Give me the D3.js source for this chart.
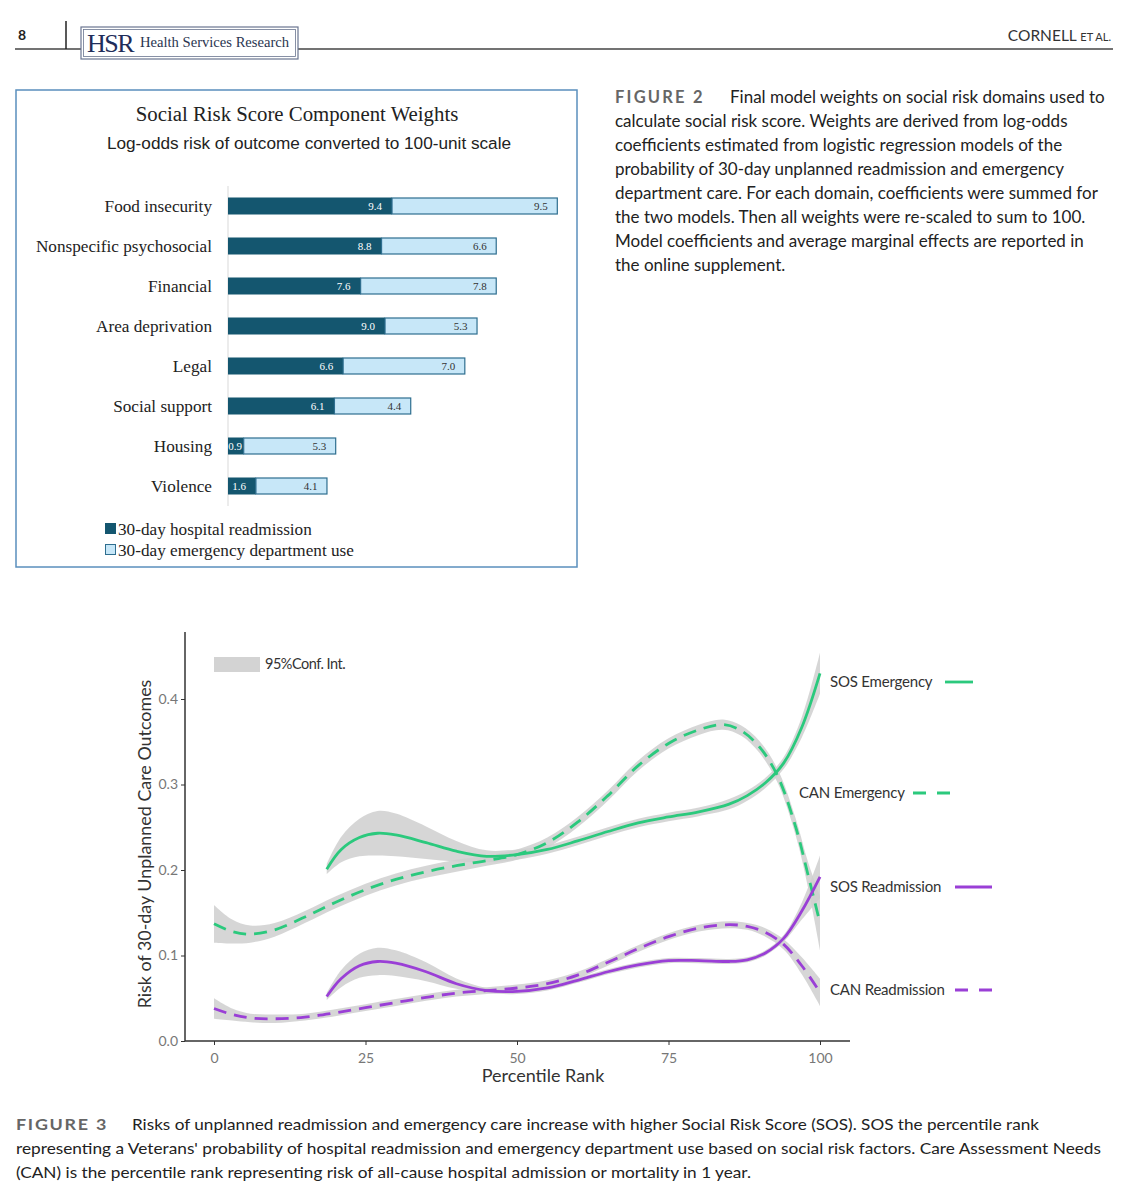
<!DOCTYPE html>
<html><head><meta charset="utf-8">
<script src="https://cdn.jsdelivr.net/npm/d3@7"></script>
<style>body{margin:0;background:#fff}svg{display:block}</style>
</head><body>
<script>
// ---------- Figure 2 data ----------
const categories = ["Food insecurity","Nonspecific psychosocial","Financial","Area deprivation","Legal","Social support","Housing","Violence"];
const readmission = [9.4, 8.8, 7.6, 9.0, 6.6, 6.1, 0.9, 1.6];
const emergency   = [9.5, 6.6, 7.8, 5.3, 7.0, 4.4, 5.3, 4.1];
const barSeries = ["30-day hospital readmission","30-day emergency department use"];

// ---------- Figure 3 data ----------
const xTicks = [0,25,50,75,100];
const yTicks = [0.0,0.1,0.2,0.3,0.4];
const sosX = [18.6,21,24,27,30,35,40,45,50,55,60,65,70,75,80,85,88,91,94,97,100];
const sosEmergency   = [0.201,0.224,0.238,0.243,0.241,0.232,0.222,0.216,0.218,0.224,0.234,0.245,0.255,0.262,0.268,0.277,0.287,0.302,0.325,0.367,0.430];
const sosEmergencyCI = [0.006,0.015,0.022,0.026,0.025,0.019,0.012,0.007,0.006,0.005,0.005,0.005,0.005,0.005,0.005,0.006,0.006,0.006,0.007,0.012,0.024];
const sosReadmission   = [0.052,0.073,0.088,0.093,0.091,0.081,0.067,0.059,0.058,0.062,0.071,0.081,0.089,0.094,0.094,0.093,0.095,0.103,0.120,0.152,0.192];
const sosReadmissionCI = [0.004,0.010,0.014,0.016,0.015,0.011,0.006,0.003,0.003,0.003,0.003,0.003,0.003,0.003,0.003,0.003,0.003,0.003,0.004,0.010,0.025];
const canEX = [0,3,6,10,15,20,25,30,35,40,45,50,55,60,65,70,75,80,84,87,90,93,96,98,100];
const canEmergency   = [0.137,0.128,0.125,0.130,0.145,0.162,0.177,0.189,0.198,0.205,0.211,0.218,0.232,0.256,0.287,0.322,0.348,0.364,0.370,0.363,0.344,0.310,0.250,0.195,0.138];
const canEmergencyCI = [0.022,0.014,0.010,0.008,0.007,0.007,0.007,0.007,0.007,0.007,0.006,0.006,0.006,0.006,0.006,0.006,0.006,0.006,0.006,0.006,0.007,0.008,0.010,0.015,0.032];
const canRX = [0,3,6,10,15,20,25,30,35,40,45,50,55,60,65,70,75,80,85,88,91,94,97,100];
const canReadmission   = [0.038,0.031,0.027,0.026,0.028,0.033,0.039,0.045,0.051,0.056,0.059,0.062,0.067,0.077,0.092,0.108,0.122,0.132,0.136,0.134,0.127,0.113,0.088,0.057];
const canReadmissionCI = [0.012,0.007,0.005,0.005,0.004,0.004,0.004,0.004,0.004,0.004,0.004,0.004,0.004,0.004,0.004,0.004,0.004,0.004,0.004,0.004,0.005,0.006,0.010,0.016];
const seriesNames = ["SOS Emergency","CAN Emergency","SOS Readmission","CAN Readmission"];

const fig2Caption = [
 "Final model weights on social risk domains used to",
 "calculate social risk score. Weights are derived from log-odds",
 "coefficients estimated from logistic regression models of the",
 "probability of 30-day unplanned readmission and emergency",
 "department care. For each domain, coefficients were summed for",
 "the two models. Then all weights were re-scaled to sum to 100.",
 "Model coefficients and average marginal effects are reported in",
 "the online supplement."];
const fig3Caption = [
 "Risks of unplanned readmission and emergency care increase with higher Social Risk Score (SOS). SOS the percentile rank",
 "representing a Veterans' probability of hospital readmission and emergency department use based on social risk factors. Care Assessment Needs",
 "(CAN) is the percentile rank representing risk of all-cause hospital admission or mortality in 1 year."];

const GREEN = "#2bc97d", PURPLE = "#9a3fd6", DARK = "#14566f", LIGHT = "#c7e7f8";
const svg = d3.select("body").append("svg").attr("width",1143).attr("height",1200);

// ---------- Page header ----------
const hdr = svg.append("g");
hdr.append("text").attr("x",18).attr("y",40).attr("font-family","Lato, sans-serif").attr("font-weight","bold").attr("font-size",14).attr("fill","#222").text("8");
hdr.append("line").attr("x1",15).attr("x2",1113).attr("y1",49).attr("y2",49).attr("stroke","#444").attr("stroke-width",1.5);
hdr.append("line").attr("x1",66).attr("x2",66).attr("y1",21).attr("y2",49).attr("stroke","#222").attr("stroke-width",1.5);
hdr.append("rect").attr("x",81).attr("y",27).attr("width",217).attr("height",32).attr("fill","#fff").attr("stroke","#6a7590").attr("stroke-width",1.2);
hdr.append("rect").attr("x",83.5).attr("y",29.5).attr("width",212).attr("height",27).attr("fill","none").attr("stroke","#6a7590").attr("stroke-width",0.8);
hdr.append("text").attr("x",87).attr("y",52).attr("font-family","Liberation Serif, serif").attr("font-size",26).attr("fill","#1f2d5a").attr("letter-spacing",-1.5).text("HSR");
hdr.append("text").attr("x",140).attr("y",47).attr("font-family","Liberation Serif, serif").attr("font-size",14.6).attr("fill","#2a3550").text("Health Services Research");
const hr = hdr.append("text").attr("x",1111).attr("y",41).attr("text-anchor","end").attr("font-family","Lato, sans-serif").attr("font-size",15.5).attr("fill","#333");
hr.append("tspan").text("CORNELL ");
hr.append("tspan").attr("font-size",11).text("ET AL.");

// ---------- Figure 2 box ----------
const f2 = svg.append("g");
f2.append("rect").attr("x",16).attr("y",90).attr("width",561).attr("height",477).attr("fill","#fff").attr("stroke","#5a8fbd").attr("stroke-width",1.5);
f2.append("text").attr("x",297).attr("y",121).attr("text-anchor","middle").attr("font-family","Liberation Serif, serif").attr("font-size",20.8).attr("fill","#222").text("Social Risk Score Component Weights");
f2.append("text").attr("x",309).attr("y",149).attr("text-anchor","middle").attr("font-family","Liberation Sans, Arial, sans-serif").attr("font-size",17.2).attr("fill","#222").text("Log-odds risk of outcome converted to 100-unit scale");

const xb = d3.scaleLinear().domain([0,20]).range([228,577]);
const yb = d3.scaleBand().domain(categories).range([186,506]).paddingInner(0.575).paddingOuter(0.2875);
f2.append("line").attr("x1",xb(0)).attr("x2",xb(0)).attr("y1",186).attr("y2",506).attr("stroke","#d9d9d9").attr("stroke-width",1);

const rows = categories.map((c,i)=>({c, r:readmission[i], e:emergency[i]}));
const rg = f2.selectAll("g.row").data(rows).join("g").attr("class","row");
rg.append("rect").attr("x",d=>xb(0)).attr("y",d=>yb(d.c)).attr("width",d=>xb(d.r)-xb(0)).attr("height",yb.bandwidth()).attr("fill",DARK);
rg.append("rect").attr("x",d=>xb(d.r)).attr("y",d=>yb(d.c)+0.5).attr("width",d=>xb(d.r+d.e)-xb(d.r)-0.5).attr("height",yb.bandwidth()-1).attr("fill",LIGHT).attr("stroke","#2e6e8f").attr("stroke-width",1.2);
rg.append("text").attr("x",d=>Math.max(xb(d.r)-10, xb(0)+14)).attr("y",d=>yb(d.c)+yb.bandwidth()/2+4).attr("text-anchor","end").attr("font-family","Liberation Serif, serif").attr("font-size",11).attr("fill","#fff").text(d=>d.r.toFixed(1));
rg.append("text").attr("x",d=>xb(d.r+d.e)-10).attr("y",d=>yb(d.c)+yb.bandwidth()/2+4).attr("text-anchor","end").attr("font-family","Liberation Serif, serif").attr("font-size",11).attr("fill","#333").text(d=>d.e.toFixed(1));
rg.append("text").attr("x",212).attr("y",d=>yb(d.c)+yb.bandwidth()/2+6).attr("text-anchor","end").attr("font-family","Liberation Serif, serif").attr("font-size",17.2).attr("fill","#222").text(d=>d.c);

const lg = f2.selectAll("g.lg").data(barSeries).join("g").attr("class","lg").attr("transform",(d,i)=>`translate(105,${523+i*21})`);
lg.append("rect").attr("x",0.5).attr("y",0.5).attr("width",10).attr("height",10).attr("fill",(d,i)=>i?LIGHT:DARK).attr("stroke",(d,i)=>i?"#2e6e8f":DARK).attr("stroke-width",1);
lg.append("text").attr("x",13).attr("y",11.5).attr("font-family","Liberation Serif, serif").attr("font-size",17.2).attr("fill","#222").text(d=>d);

// ---------- Figure 2 caption ----------
const c2 = svg.append("g").attr("font-family","Lato, sans-serif").attr("font-size",17).attr("fill","#222");
c2.append("text").attr("x",615).attr("y",102.5).attr("font-weight","bold").attr("letter-spacing",2.2).attr("fill","#666").attr("font-size",16.5).text("FIGURE 2");
fig2Caption.forEach((t,i)=>{
  c2.append("text").attr("x", i===0?730:615).attr("y",102.5+i*24).text(t);
});

// ---------- Figure 3 plot ----------
const x = d3.scaleLinear().domain([0,100]).range([214,820]);
const y = d3.scaleLinear().domain([0,0.4]).range([1041,699]);
const f3 = svg.append("g");

function mk(xs, ys, ci){ return xs.map((v,i)=>({x:v,y:ys[i],c:ci[i]})); }
const series = [
  {name:seriesNames[0], pts:mk(sosX,sosEmergency,sosEmergencyCI), color:GREEN, dash:null},
  {name:seriesNames[1], pts:mk(canEX,canEmergency,canEmergencyCI), color:GREEN, dash:"13,8"},
  {name:seriesNames[2], pts:mk(sosX,sosReadmission,sosReadmissionCI), color:PURPLE, dash:null},
  {name:seriesNames[3], pts:mk(canRX,canReadmission,canReadmissionCI), color:PURPLE, dash:"13,8"}
];
const curve = d3.curveCatmullRom.alpha(0.5);
const area = d3.area().x(d=>x(d.x)).y0(d=>y(d.y-d.c)).y1(d=>y(d.y+d.c)).curve(curve);
const line = d3.line().x(d=>x(d.x)).y(d=>y(d.y)).curve(curve);

f3.selectAll("path.band").data(series).join("path").attr("class","band").attr("d",d=>area(d.pts)).attr("fill","#cfcfcf").attr("opacity",0.85);
f3.selectAll("path.ln").data(series).join("path").attr("class","ln").attr("d",d=>line(d.pts)).attr("fill","none").attr("stroke",d=>d.color).attr("stroke-width",2.8).attr("stroke-dasharray",d=>d.dash);

// axes
const xAxis = f3.append("g").attr("transform","translate(0,1041)").call(d3.axisBottom(x).tickValues(xTicks).tickSize(4).tickFormat(d3.format("d")));
xAxis.select(".domain").remove();
xAxis.append("line").attr("x1",185).attr("x2",850).attr("stroke","#333").attr("stroke-width",1.5);
const yAxis = f3.append("g").attr("transform","translate(185,0)").call(d3.axisLeft(y).tickValues(yTicks).tickSize(4).tickFormat(d3.format(".1f")));
yAxis.select(".domain").remove();
yAxis.append("line").attr("y1",632).attr("y2",1041).attr("stroke","#333").attr("stroke-width",1.5);
[xAxis,yAxis].forEach(a=>{
  a.selectAll(".tick line").attr("stroke","#333");
  a.selectAll(".tick text").attr("font-family","Lato, sans-serif").attr("font-size",14).attr("fill","#777");
});
xAxis.selectAll(".tick text").attr("dy","1.05em");

f3.append("text").attr("x",543).attr("y",1082).attr("text-anchor","middle").attr("font-family","Lato, sans-serif").attr("font-size",18).attr("fill","#333").text("Percentile Rank");
f3.append("text").attr("transform","translate(151,844) rotate(-90)").attr("text-anchor","middle").attr("font-family","Lato, sans-serif").attr("font-size",17.9).attr("fill","#333").text("Risk of 30-day Unplanned Care Outcomes");

// CI legend
f3.append("rect").attr("x",214).attr("y",657).attr("width",46).attr("height",15).attr("fill","#d3d3d3");
f3.append("text").attr("x",265).attr("y",669).attr("font-family","Lato, sans-serif").attr("font-size",14.5).attr("letter-spacing",-0.5).attr("fill","#333").text("95%Conf. Int.");

// right labels
const labs = [
  {tx:830, ty:687, l1:945, l2:973},
  {tx:799, ty:798, l1:913, l2:950},
  {tx:830, ty:892, l1:955, l2:992},
  {tx:830, ty:995, l1:955, l2:992}
];
series.forEach((s,i)=>{
  const L = labs[i];
  f3.append("text").attr("x",L.tx).attr("y",L.ty).attr("font-family","Lato, sans-serif").attr("font-size",15).attr("letter-spacing",-0.2).attr("fill","#333").text(s.name);
  f3.append("line").attr("x1",L.l1).attr("x2",L.l2).attr("y1",L.ty-5).attr("y2",L.ty-5).attr("stroke",s.color).attr("stroke-width",2.8).attr("stroke-dasharray",s.dash?"13,11":null);
});

// ---------- Figure 3 caption ----------
const c3 = svg.append("g").attr("font-family","Lato, sans-serif").attr("font-size",16).attr("fill","#222");
c3.append("text").attr("x",16).attr("y",1130).attr("font-weight","bold").attr("letter-spacing",1.5).attr("fill","#666").attr("font-size",15.5).attr("textLength",92).attr("lengthAdjust","spacingAndGlyphs").text("FIGURE 3");
const c3ends = [1039,1101,751];
fig3Caption.forEach((t,i)=>{
  const x0 = i===0?132:16;
  c3.append("text").attr("x",x0).attr("y",1130+i*24).attr("textLength",c3ends[i]-x0).attr("lengthAdjust","spacingAndGlyphs").text(t);
});
</script>
</body></html>
